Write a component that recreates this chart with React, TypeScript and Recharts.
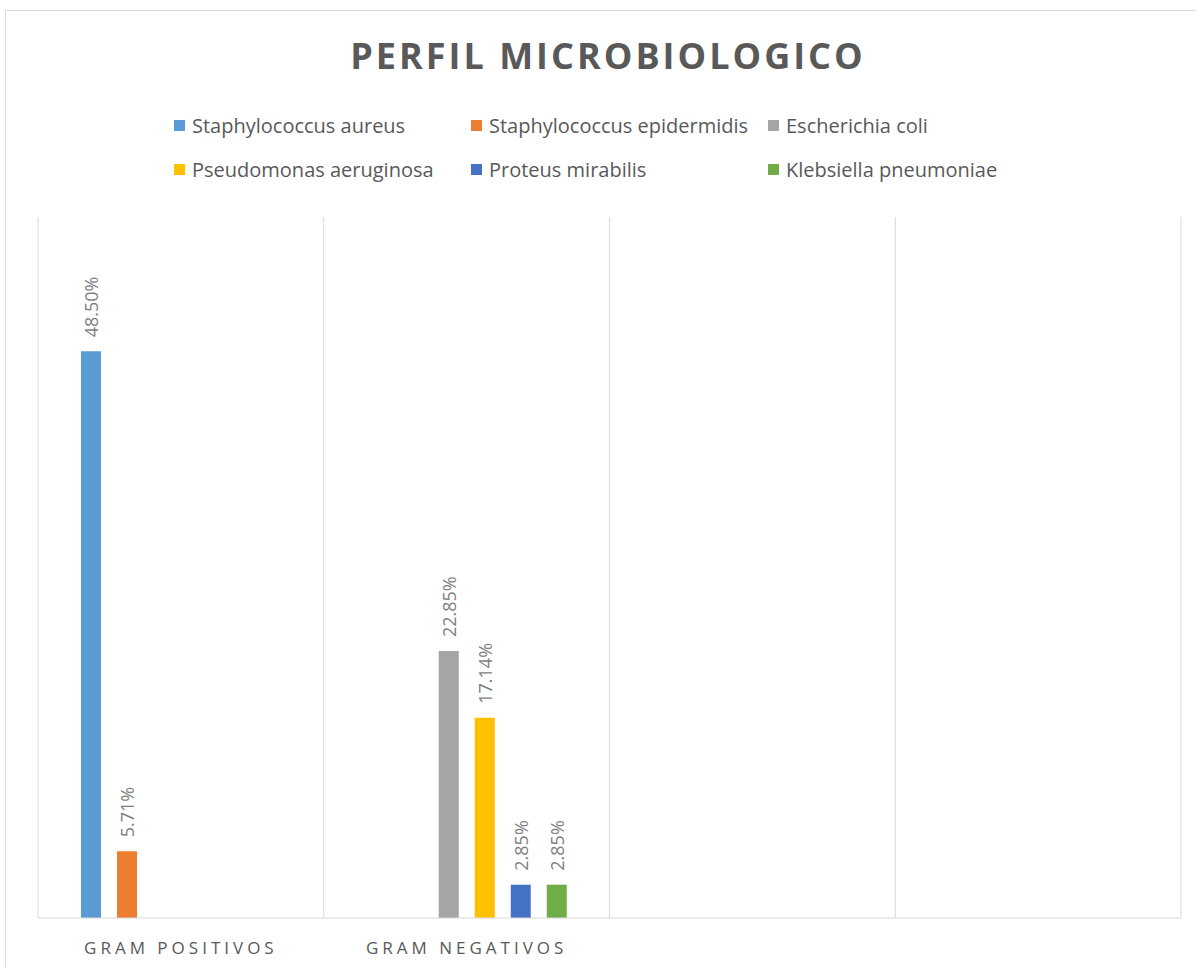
import React from 'react';
import { BarChart, Bar, XAxis, YAxis, CartesianGrid } from 'recharts';

const CATEGORIES = ['GRAM POSITIVOS', 'GRAM NEGATIVOS', '', ''];

const STAPH_AUREUS = [48.5, null, null, null];
const STAPH_EPIDERMIDIS = [5.71, null, null, null];
const E_COLI = [null, 22.85, null, null];
const PSEUDOMONAS = [null, 17.14, null, null];
const PROTEUS = [null, 2.85, null, null];
const KLEBSIELLA = [null, 2.85, null, null];

const SERIES = [
  { key: 'aureus', name: 'Staphylococcus aureus', values: STAPH_AUREUS, color: '#5b9bd5' },
  { key: 'epidermidis', name: 'Staphylococcus epidermidis', values: STAPH_EPIDERMIDIS, color: '#ed7d31' },
  { key: 'coli', name: 'Escherichia coli', values: E_COLI, color: '#a5a5a5' },
  { key: 'pseudomonas', name: 'Pseudomonas aeruginosa', values: PSEUDOMONAS, color: '#ffc000' },
  { key: 'proteus', name: 'Proteus mirabilis', values: PROTEUS, color: '#4472c4' },
  { key: 'klebsiella', name: 'Klebsiella pneumoniae', values: KLEBSIELLA, color: '#70ad47' },
];

const Y_DOMAIN = [0, 60];

const data = CATEGORIES.map((cat, i) => {
  const row: any = { cat };
  SERIES.forEach((s) => { row[s.key] = s.values[i]; });
  return row;
});

const FONT = '"Open Sans", "Noto Sans", sans-serif';
const W = 1196;
const H = 968;
const M = { top: 217, right: 15, bottom: 0, left: 38 };

const BarLabel = (props: any) => {
  const { x, y, width, value } = props;
  if (value == null) return null;
  const cx = x + width / 2;
  const cy = y - 14;
  return (
    <text
      x={cx}
      y={cy}
      transform={`rotate(-90 ${cx} ${cy})`}
      textAnchor="start"
      dominantBaseline="central"
      fill="#7f7f7f"
      fontSize={18}
      fontFamily={FONT}
    >
      {Number(value).toFixed(2)}%
    </text>
  );
};

const CatTick = (props: any) => {
  const { x, y, payload } = props;
  return (
    <text
      x={x}
      y={y + 29}
      textAnchor="middle"
      dominantBaseline="central"
      fill="#595959"
      fontSize={17}
      letterSpacing={4}
      fontFamily={FONT}
    >
      {payload.value}
    </text>
  );
};

export default function App() {
  const plotW = W - M.left - M.right;
  const gridX = CATEGORIES.map((_, i) => M.left + (i * plotW) / CATEGORIES.length).concat(M.left + plotW);

  return (
    <div style={{ position: 'absolute', left: 0, top: 0, width: W, height: H, overflow: 'hidden', background: '#fff', fontFamily: FONT }}>
      <div style={{ position: 'absolute', left: 5, top: 10, width: 1300, height: 1100, border: '1px solid #d9d9d9' }} />
      <div
        style={{
          position: 'absolute', left: 10, top: 30, width: W, textAlign: 'center',
          fontSize: 36, fontWeight: 700, letterSpacing: 3, color: '#595959', lineHeight: '52px',
        }}
      >
        PERFIL MICROBIOLOGICO
      </div>
      <div style={{ position: 'absolute', left: 174, top: 110, display: 'grid', gridTemplateColumns: '297px 297px 297px', rowGap: 14 }}>
        {SERIES.map((s) => (
          <div key={s.key} style={{ display: 'flex', alignItems: 'center', height: 30, color: '#595959', fontSize: 20, whiteSpace: 'nowrap' }}>
            <span style={{ width: 11, height: 11, background: s.color, marginRight: 7, flex: 'none' }} />
            {s.name}
          </div>
        ))}
      </div>
      <div style={{ position: 'absolute', left: 0, top: 0 }}>
        <BarChart width={W} height={H} data={data} margin={M} barSize={20} barGap={16}>
          <CartesianGrid horizontal={false} vertical stroke="#d9d9d9" verticalPoints={gridX} />
          <XAxis
            dataKey="cat"
            height={50}
            axisLine={{ stroke: '#d9d9d9' }}
            tickLine={false}
            tickSize={0}
            tickMargin={0}
            interval={0}
            tick={<CatTick />}
          />
          <YAxis hide domain={Y_DOMAIN} />
          {SERIES.map((s) => (
            <Bar key={s.key} dataKey={s.key} name={s.name} fill={s.color} isAnimationActive={false} label={<BarLabel />} />
          ))}
        </BarChart>
      </div>
    </div>
  );
}
